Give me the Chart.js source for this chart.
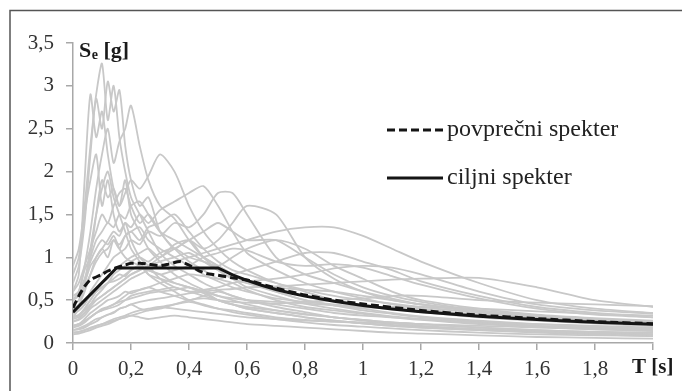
<!DOCTYPE html>
<html>
<head>
<meta charset="utf-8">
<script src="https://cdn.jsdelivr.net/npm/chart.js@4.4.1/dist/chart.umd.min.js"></script>
<style>
  html, body { margin: 0; padding: 0; background: #ffffff; }
  canvas { display: block; }
</style>
</head>
<body>
<canvas id="c" width="682" height="391"></canvas>
<script>
// ---- Data ----
const periods = [0, 0.02, 0.04, 0.06, 0.08, 0.1, 0.12, 0.14, 0.16, 0.18, 0.2, 0.23, 0.26, 0.3, 0.35, 0.4, 0.45, 0.5, 0.55, 0.6, 0.7, 0.8, 0.9, 1.0, 1.1, 1.2, 1.4, 1.6, 1.8, 2.0];

const rec01 = [0.9, 1.1, 1.6, 2.3, 2.9, 3.26, 2.6, 3.0, 2.4, 2.0, 1.7, 1.5, 1.3, 1.05, 0.9, 0.8, 0.7, 0.62, 0.55, 0.5, 0.42, 0.36, 0.3, 0.27, 0.24, 0.22, 0.18, 0.15, 0.13, 0.12];
const rec02 = [0.7, 0.9, 1.4, 2.2, 2.85, 2.5, 3.05, 2.7, 2.95, 2.3, 1.9, 1.6, 1.7, 1.3, 1.1, 0.95, 0.85, 0.75, 0.7, 0.62, 0.5, 0.42, 0.38, 0.34, 0.3, 0.27, 0.22, 0.19, 0.16, 0.14];
const rec03 = [0.6, 0.8, 1.9, 2.9, 2.4, 2.7, 2.2, 1.8, 1.6, 1.9, 1.5, 1.3, 1.1, 0.95, 0.8, 0.7, 0.62, 0.55, 0.5, 0.45, 0.38, 0.33, 0.3, 0.26, 0.23, 0.2, 0.16, 0.14, 0.12, 0.1];
const rec04 = [0.5, 0.6, 0.9, 1.3, 1.8, 2.2, 2.5, 2.1, 2.35, 2.5, 2.77, 2.3, 1.9, 1.6, 1.45, 1.2, 1.0, 0.9, 0.8, 0.7, 0.6, 0.5, 0.44, 0.4, 0.35, 0.31, 0.26, 0.22, 0.19, 0.17];
const rec05 = [0.45, 0.5, 0.7, 1.0, 1.5, 1.9, 1.7, 1.8, 1.6, 1.75, 1.9, 1.8, 1.95, 2.2, 2.0, 1.6, 1.3, 1.1, 0.95, 0.85, 0.7, 0.6, 0.5, 0.44, 0.4, 0.36, 0.3, 0.26, 0.23, 0.2];
const rec06 = [0.8, 1.0, 1.5, 1.9, 2.2, 1.6, 1.9, 1.5, 1.3, 1.4, 1.2, 1.0, 0.9, 0.75, 0.65, 0.6, 0.55, 0.5, 0.45, 0.4, 0.35, 0.3, 0.26, 0.23, 0.2, 0.18, 0.15, 0.13, 0.11, 0.1];
const rec07 = [0.4, 0.45, 0.6, 0.8, 1.0, 1.1, 1.2, 1.3, 1.25, 1.4, 1.35, 1.5, 1.4, 1.55, 1.65, 1.75, 1.83, 1.6, 1.3, 1.05, 0.85, 0.7, 0.6, 0.52, 0.45, 0.4, 0.32, 0.27, 0.23, 0.2];
const rec08 = [0.35, 0.38, 0.45, 0.6, 0.7, 0.8, 0.9, 1.0, 1.05, 1.1, 1.2, 1.15, 1.3, 1.25, 1.4, 1.35, 1.5, 1.75, 1.75, 1.5, 1.0, 0.8, 0.7, 0.6, 0.52, 0.45, 0.36, 0.3, 0.26, 0.22];
const rec09 = [0.3, 0.32, 0.4, 0.5, 0.6, 0.7, 0.75, 0.85, 0.9, 0.95, 1.0, 1.05, 1.1, 1.0, 1.15, 1.2, 1.1, 1.2, 1.4, 1.6, 1.5, 1.0, 0.75, 0.6, 0.5, 0.45, 0.37, 0.3, 0.26, 0.23];
const rec10 = [0.25, 0.27, 0.32, 0.4, 0.45, 0.5, 0.55, 0.6, 0.65, 0.7, 0.75, 0.8, 0.85, 0.9, 0.95, 1.0, 1.05, 1.1, 1.15, 1.2, 1.3, 1.35, 1.35, 1.25, 1.1, 0.95, 0.7, 0.5, 0.4, 0.35];
const rec11 = [0.2, 0.22, 0.25, 0.3, 0.35, 0.38, 0.4, 0.42, 0.45, 0.5, 0.55, 0.58, 0.6, 0.62, 0.65, 0.6, 0.62, 0.65, 0.7, 0.72, 0.75, 0.8, 0.87, 0.9, 0.88, 0.8, 0.6, 0.45, 0.38, 0.34];
const rec12 = [0.15, 0.17, 0.2, 0.24, 0.28, 0.3, 0.33, 0.36, 0.4, 0.42, 0.45, 0.48, 0.5, 0.52, 0.55, 0.58, 0.6, 0.62, 0.63, 0.65, 0.66, 0.68, 0.7, 0.72, 0.74, 0.75, 0.76, 0.65, 0.5, 0.42];
const rec13 = [0.3, 0.33, 0.4, 0.5, 0.6, 0.65, 0.7, 0.8, 0.85, 0.9, 0.95, 1.0, 0.95, 1.05, 1.1, 1.0, 0.95, 0.9, 1.0, 1.1, 1.2, 1.1, 0.9, 0.75, 0.6, 0.5, 0.4, 0.33, 0.29, 0.26];
const rec14 = [0.6, 0.7, 0.9, 1.1, 1.3, 1.5, 1.4, 1.6, 1.75, 1.8, 1.6, 1.4, 1.5, 1.3, 1.1, 1.2, 1.0, 0.85, 0.75, 0.65, 0.55, 0.46, 0.4, 0.35, 0.31, 0.28, 0.23, 0.2, 0.17, 0.15];
const rec15 = [0.5, 0.55, 0.7, 0.9, 1.0, 1.1, 1.0, 1.2, 1.1, 1.25, 1.3, 1.2, 1.35, 1.4, 1.5, 1.3, 1.1, 0.95, 0.85, 0.8, 0.7, 0.62, 0.55, 0.5, 0.46, 0.42, 0.35, 0.3, 0.27, 0.24];
const rec16 = [0.2, 0.22, 0.28, 0.35, 0.4, 0.45, 0.5, 0.52, 0.55, 0.6, 0.58, 0.62, 0.65, 0.6, 0.55, 0.5, 0.55, 0.6, 0.55, 0.5, 0.45, 0.4, 0.35, 0.32, 0.3, 0.28, 0.24, 0.22, 0.2, 0.18];
const rec17 = [0.15, 0.16, 0.18, 0.22, 0.25, 0.3, 0.33, 0.35, 0.4, 0.42, 0.45, 0.4, 0.38, 0.42, 0.45, 0.48, 0.44, 0.4, 0.38, 0.35, 0.3, 0.27, 0.25, 0.23, 0.21, 0.19, 0.16, 0.14, 0.12, 0.1];
const rec18 = [0.25, 0.28, 0.35, 0.45, 0.55, 0.62, 0.7, 0.75, 0.8, 0.78, 0.85, 0.9, 0.8, 0.75, 0.7, 0.65, 0.6, 0.5, 0.45, 0.42, 0.38, 0.34, 0.3, 0.27, 0.24, 0.22, 0.18, 0.15, 0.13, 0.12];
const rec19 = [0.3, 0.32, 0.38, 0.45, 0.5, 0.55, 0.6, 0.65, 0.7, 0.75, 0.8, 0.85, 0.9, 0.95, 1.0, 1.05, 0.95, 0.85, 0.75, 0.7, 0.65, 0.62, 0.6, 0.55, 0.5, 0.45, 0.38, 0.32, 0.28, 0.25];
const rec20 = [0.12, 0.13, 0.15, 0.18, 0.2, 0.22, 0.25, 0.28, 0.3, 0.32, 0.35, 0.38, 0.4, 0.42, 0.4, 0.38, 0.36, 0.34, 0.32, 0.3, 0.28, 0.26, 0.25, 0.24, 0.23, 0.22, 0.2, 0.18, 0.16, 0.15];
const rec21 = [0.45, 0.5, 0.65, 0.8, 0.95, 1.05, 1.1, 1.2, 1.15, 1.25, 1.3, 1.35, 1.2, 1.1, 1.0, 0.9, 0.8, 0.72, 0.65, 0.6, 0.52, 0.48, 0.45, 0.42, 0.4, 0.38, 0.33, 0.3, 0.27, 0.25];
const rec22 = [0.35, 0.38, 0.45, 0.55, 0.6, 0.65, 0.7, 0.72, 0.75, 0.8, 0.85, 0.9, 0.85, 0.8, 0.85, 0.9, 1.0, 1.05, 1.1, 1.08, 0.95, 0.9, 0.92, 0.88, 0.78, 0.68, 0.52, 0.4, 0.33, 0.3];
const rec23 = [0.1, 0.11, 0.13, 0.15, 0.18, 0.2, 0.22, 0.25, 0.28, 0.3, 0.32, 0.35, 0.38, 0.4, 0.45, 0.5, 0.52, 0.5, 0.48, 0.47, 0.46, 0.48, 0.5, 0.52, 0.55, 0.55, 0.5, 0.47, 0.45, 0.43];
const rec24 = [0.55, 0.6, 0.75, 0.95, 1.1, 1.2, 1.15, 1.25, 1.1, 1.0, 0.95, 0.9, 0.85, 0.8, 0.7, 0.65, 0.58, 0.5, 0.45, 0.4, 0.35, 0.3, 0.26, 0.23, 0.2, 0.18, 0.15, 0.12, 0.1, 0.08];
const rec25 = [0.18, 0.2, 0.24, 0.3, 0.35, 0.38, 0.42, 0.45, 0.48, 0.5, 0.52, 0.55, 0.58, 0.6, 0.62, 0.65, 0.6, 0.55, 0.52, 0.5, 0.48, 0.46, 0.44, 0.42, 0.42, 0.42, 0.4, 0.37, 0.34, 0.32];
const rec26 = [0.3, 0.4, 0.7, 1.1, 1.5, 1.8, 2.0, 1.7, 1.5, 1.3, 1.1, 0.95, 0.8, 0.7, 0.6, 0.5, 0.45, 0.4, 0.36, 0.33, 0.28, 0.24, 0.21, 0.19, 0.17, 0.15, 0.12, 0.1, 0.09, 0.08];
const rec27 = [0.28, 0.3, 0.35, 0.42, 0.5, 0.55, 0.6, 0.65, 0.7, 0.75, 0.8, 0.85, 0.9, 1.0, 1.1, 1.2, 1.3, 1.4, 1.3, 1.2, 1.2, 1.0, 0.8, 0.65, 0.55, 0.48, 0.38, 0.32, 0.28, 0.25];
const rec28 = [0.2, 0.22, 0.26, 0.3, 0.35, 0.4, 0.42, 0.45, 0.5, 0.55, 0.6, 0.62, 0.65, 0.7, 0.75, 0.8, 0.78, 0.75, 0.8, 0.85, 0.95, 1.05, 1.05, 0.95, 0.85, 0.72, 0.55, 0.42, 0.35, 0.3];
const rec29 = [0.12, 0.13, 0.15, 0.17, 0.2, 0.22, 0.24, 0.26, 0.28, 0.3, 0.32, 0.3, 0.28, 0.3, 0.32, 0.3, 0.28, 0.26, 0.24, 0.22, 0.2, 0.18, 0.16, 0.14, 0.12, 0.11, 0.09, 0.07, 0.06, 0.05];
const rec30 = [0.5, 0.6, 0.85, 1.0, 1.2, 1.3, 1.4, 1.35, 1.5, 1.45, 1.6, 1.65, 1.5, 1.3, 1.2, 1.1, 1.0, 0.9, 0.8, 0.72, 0.6, 0.5, 0.44, 0.38, 0.34, 0.3, 0.25, 0.2, 0.18, 0.16];

const records = [rec01, rec02, rec03, rec04, rec05, rec06, rec07, rec08, rec09, rec10,
                 rec11, rec12, rec13, rec14, rec15, rec16, rec17, rec18, rec19, rec20,
                 rec21, rec22, rec23, rec24, rec25, rec26, rec27, rec28, rec29, rec30];

const meanPeriods = [0, 0.02, 0.04, 0.06, 0.08, 0.1, 0.12, 0.15, 0.18, 0.2, 0.23, 0.26, 0.3, 0.33, 0.37, 0.4, 0.43, 0.46, 0.5, 0.55, 0.6, 0.7, 0.8, 0.9, 1.0, 1.2, 1.4, 1.6, 1.8, 2.0];
const meanSe = [0.41, 0.55, 0.66, 0.74, 0.77, 0.80, 0.84, 0.88, 0.91, 0.93, 0.93, 0.92, 0.90, 0.92, 0.95, 0.91, 0.85, 0.81, 0.79, 0.76, 0.735, 0.64, 0.56, 0.50, 0.455, 0.38, 0.325, 0.285, 0.25, 0.225];

const targetPeriods = [0, 0.15, 0.5, 0.55, 0.6, 0.65, 0.7, 0.75, 0.8, 0.9, 1.0, 1.1, 1.2, 1.3, 1.4, 1.5, 1.6, 1.7, 1.8, 1.9, 2.0];
const targetSe = [0.36, 0.875, 0.875, 0.795, 0.73, 0.673, 0.625, 0.583, 0.547, 0.486, 0.4375, 0.398, 0.365, 0.337, 0.313, 0.292, 0.273, 0.257, 0.243, 0.230, 0.219];

const legendLabels = ['povprečni spekter', 'ciljni spekter'];
const xTitle = 'T [s]';
const yTitleMain = 'S';
const yTitleSub = 'e';
const yTitleRest = ' [g]';

// ---- Chart ----
const SERIF = '"Liberation Serif", "Times New Roman", serif';
const toXY = (xs, ys) => xs.map((x, i) => ({ x: x, y: ys[i] }));
const fmt = v => String(Math.round(v * 10) / 10).replace('.', ',');

const datasets = [
  { label: legendLabels[1], data: toXY(targetPeriods, targetSe), borderColor: '#151515', borderWidth: 3, pointRadius: 0, tension: 0, order: 0 },
  { label: legendLabels[0], data: toXY(meanPeriods, meanSe), borderColor: '#151515', borderWidth: 3, borderDash: [8, 4], pointRadius: 0, tension: 0.2, order: 1 }
];
records.forEach((r, i) => {
  datasets.push({ label: 'rec' + (i + 1), data: toXY(periods, r), borderColor: '#c8c8c8', borderWidth: 1.8, pointRadius: 0, tension: 0.25, order: 2 });
});

const decorPlugin = {
  id: 'decor',
  beforeDraw(chart) {
    const ctx = chart.ctx;
    ctx.save();
    ctx.fillStyle = '#ffffff';
    ctx.fillRect(0, 0, chart.width, chart.height);
    ctx.strokeStyle = '#555';
    ctx.lineWidth = 1.5;
    ctx.beginPath();
    ctx.moveTo(10, chart.height);
    ctx.lineTo(10, 10.5);
    ctx.lineTo(chart.width, 10.5);
    ctx.stroke();
    ctx.restore();
  },
  afterDraw(chart) {
    const ctx = chart.ctx;
    ctx.save();
    ctx.fillStyle = '#1a1a1a';
    ctx.textBaseline = 'alphabetic';
    // y title
    let x = 79;
    ctx.font = 'bold 22px ' + SERIF;
    ctx.fillText(yTitleMain, x, 57);
    x += ctx.measureText(yTitleMain).width;
    ctx.font = 'bold 14px ' + SERIF;
    ctx.fillText(yTitleSub, x + 0.5, 59);
    x += ctx.measureText(yTitleSub).width + 0.5;
    ctx.font = 'bold 22px ' + SERIF;
    ctx.fillText(yTitleRest, x, 57);
    // x title
    ctx.font = 'bold 21px ' + SERIF;
    ctx.fillText(xTitle, 632, 373);
    // legend
    const items = [
      { ds: chart.data.datasets[1], y: 130 },
      { ds: chart.data.datasets[0], y: 178 }
    ];
    items.forEach(it => {
      ctx.strokeStyle = it.ds.borderColor;
      ctx.lineWidth = 3;
      ctx.setLineDash(it.ds.borderDash || []);
      ctx.beginPath();
      ctx.moveTo(387, it.y);
      ctx.lineTo(443, it.y);
      ctx.stroke();
      ctx.setLineDash([]);
      ctx.font = '24px ' + SERIF;
      ctx.fillStyle = '#222';
      ctx.textBaseline = 'middle';
      ctx.fillText(it.ds.label, 447, it.y);
    });
    ctx.restore();
  }
};

new Chart(document.getElementById('c'), {
  type: 'line',
  data: { datasets: datasets },
  plugins: [decorPlugin],
  options: {
    responsive: false,
    animation: false,
    devicePixelRatio: 1,
    layout: { padding: { left: 0, top: 43, right: 29, bottom: 8 } },
    plugins: { legend: { display: false }, tooltip: { enabled: false } },
    scales: {
      x: {
        type: 'linear', min: 0, max: 2,
        clip: false,
        ticks: {
          stepSize: 0.2,
          color: '#333',
          font: { family: SERIF, size: 21 },
          padding: 7,
          maxRotation: 0,
          autoSkip: false,
          callback: v => (v > 1.95 ? '' : fmt(v))
        },
        grid: { drawOnChartArea: false, drawTicks: true, tickLength: 7, color: '#a8a8a8', lineWidth: 1.5 },
        border: { display: true, color: '#a8a8a8', width: 1.5 },
        afterFit: s => { s.height = 40; }
      },
      y: {
        type: 'linear', min: 0, max: 3.5,
        clip: false,
        ticks: {
          stepSize: 0.5,
          color: '#333',
          font: { family: SERIF, size: 21 },
          padding: 12,
          callback: v => fmt(v)
        },
        grid: { drawOnChartArea: false, drawTicks: true, tickLength: 7, color: '#a8a8a8', lineWidth: 1.5 },
        border: { display: true, color: '#a8a8a8', width: 1.5 },
        afterFit: s => { s.width = 73; }
      }
    }
  }
});
</script>
</body>
</html>
